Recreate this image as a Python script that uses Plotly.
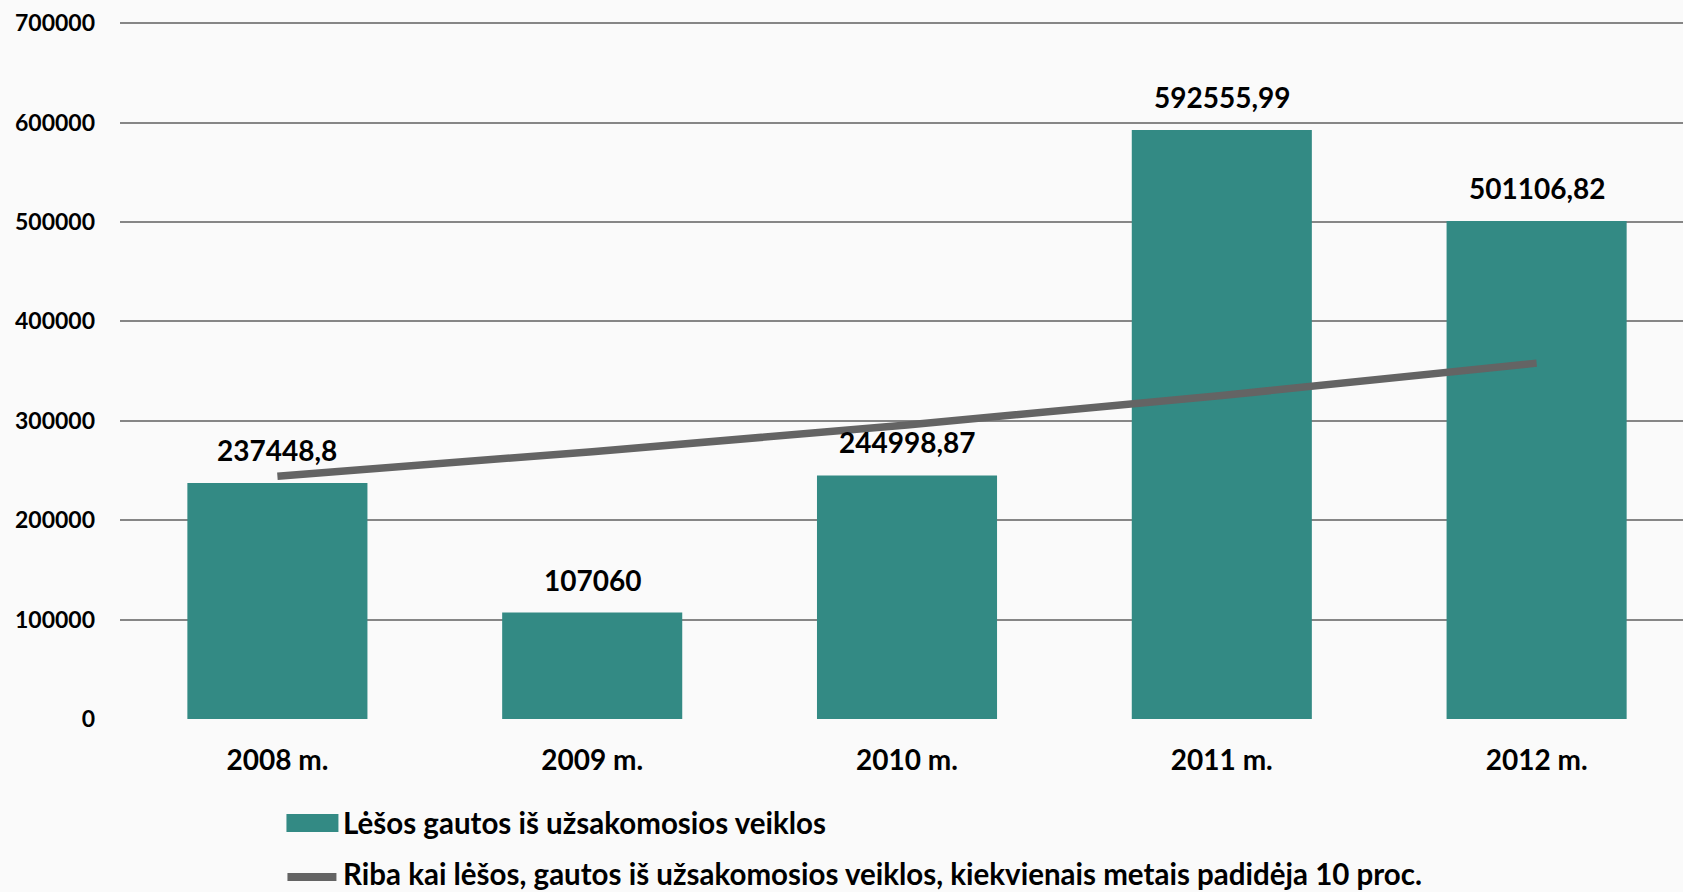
import plotly.graph_objects as go

categories = ["2008 m.", "2009 m.", "2010 m.", "2011 m.", "2012 m."]
income = [237448.8, 107060, 244998.87, 592555.99, 501106.82]
income_labels = ["237448,8", "107060", "244998,87", "592555,99", "501106,82"]
threshold = [244300, 268900, 295800, 325400, 358000]
y_ticks = [0, 100000, 200000, 300000, 400000, 500000, 600000, 700000]

series1_name = "Lėšos gautos iš užsakomosios veiklos"
series2_name = "Riba kai lėšos, gautos iš užsakomosios veiklos, kiekvienais metais padidėja 10 proc."

BAR = "#338a84"
LINE = "#646464"
FONT = "Lato"

W, H = 1683, 892
ML, MR, MT, MB = 119.5, 0, 21.5, 173

fig = go.Figure()
fig.add_trace(go.Bar(
    x=list(range(len(categories))), y=income, name=series1_name,
    marker=dict(color=BAR, line=dict(width=0)), width=0.572,
    showlegend=False, hoverinfo="skip",
))
fig.add_trace(go.Scatter(
    x=list(range(len(categories))), y=threshold, name=series2_name,
    mode="lines", line=dict(color=LINE, width=7.5),
    showlegend=False, hoverinfo="skip",
))

for i, (v, t) in enumerate(zip(income, income_labels)):
    fig.add_annotation(x=i, y=v, text=f"<b>{t}</b>", showarrow=False,
                       yanchor="bottom", yshift=14,
                       font=dict(family=FONT, size=28, color="#000"))

# custom legend (paper coords)
pw = W - ML - MR
ph = H - MT - MB
def px(x):
    return (x - ML) / pw
def py(y):
    return (H - MB - y) / ph

fig.add_shape(type="rect", xref="paper", yref="paper",
              x0=px(286), x1=px(338), y0=py(832), y1=py(814),
              fillcolor=BAR, line=dict(width=0))
fig.add_shape(type="line", xref="paper", yref="paper",
              x0=px(287), x1=px(336), y0=py(877), y1=py(877),
              line=dict(color=LINE, width=8))
fig.add_annotation(xref="paper", yref="paper", x=px(341), y=py(823),
                   xanchor="left", yanchor="middle", showarrow=False,
                   text=f"<b>{series1_name}</b>",
                   font=dict(family=FONT, size=29.5, color="#000"))
fig.add_annotation(xref="paper", yref="paper", x=px(341), y=py(874),
                   xanchor="left", yanchor="middle", showarrow=False,
                   text=f"<b>{series2_name}</b>",
                   font=dict(family=FONT, size=29.5, color="#000"))

fig.update_layout(
    width=W, height=H,
    margin=dict(l=ML, r=MR, t=MT, b=MB, pad=0),
    paper_bgcolor="#fafafa", plot_bgcolor="rgba(0,0,0,0)",
    font=dict(family=FONT, color="#000"),
    bargap=0.43,
)
fig.update_xaxes(
    range=[-0.5, 4.465], tickmode="array",
    tickvals=list(range(len(categories))),
    ticktext=[f"<b>{c}</b>" for c in categories],
    tickfont=dict(family=FONT, size=28, color="#000"),
    showgrid=False, zeroline=False, showline=False, ticks="",
    ticklabelstandoff=22,
)
fig.update_yaxes(
    range=[0, 701200], tickmode="array", tickvals=y_ticks,
    ticktext=[f"<b>{v}</b>" for v in y_ticks],
    tickfont=dict(family=FONT, size=23, color="#000"),
    showgrid=True, gridcolor="#868686", gridwidth=2,
    zeroline=False, showline=False, ticks="",
    ticklabelstandoff=24,
)

fig.write_html(
    "out.html",
    config={"displayModeBar": False},
    post_script="document.body.style.margin='0';document.body.style.overflow='hidden';",
)
